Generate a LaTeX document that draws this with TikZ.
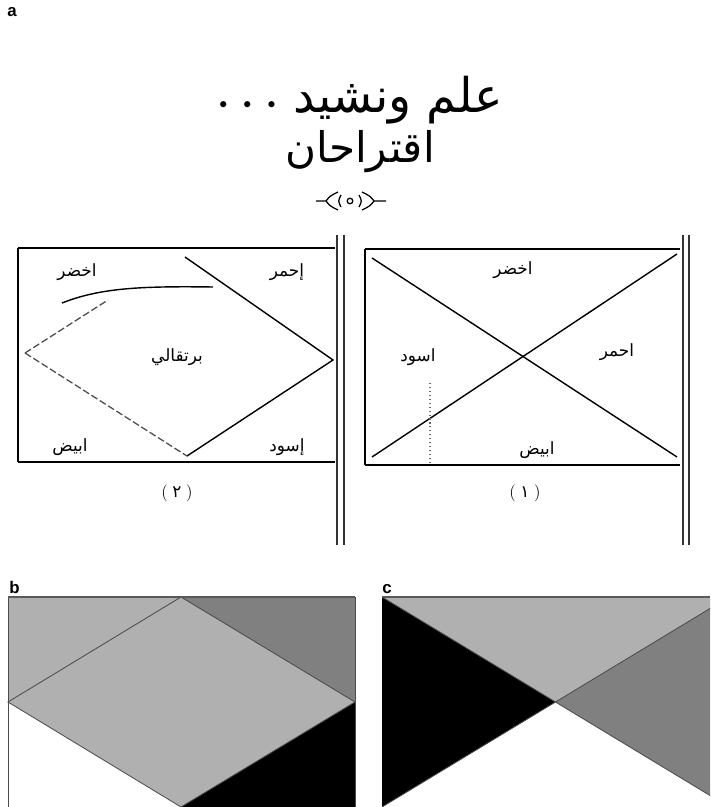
\documentclass[tikz,border=0pt]{standalone}
\usepackage{fontspec}
\newfontfamily\arabicfont[Script=Arabic]{DejaVu Sans}
\newfontfamily\panelfont{Liberation Sans}
\TeXXeTstate=1
\definecolor{flaglight}{gray}{0.69}
\definecolor{flagdark}{gray}{0.50}

\begin{document}
\begin{tikzpicture}[
  x=0.025cm, y=-0.025cm,
  ink/.style={draw=black, line width=1pt},
  heavy/.style={draw=black, line width=1.6pt},
  rule/.style={draw=black!80, line width=1.3pt},
  faint/.style={draw=black!70, line width=0.9pt, dash pattern=on 5pt off 2pt},
  edge/.style={draw=black!70, line width=0.6pt},
  curl/.style={line width=0.9pt},
  word/.style={font=\arabicfont\fontsize{12}{14}\selectfont, inner sep=0pt},
  panel/.style={font=\panelfont\bfseries\fontsize{12}{14}\selectfont,
    anchor=base west, inner sep=0pt}
]
  \useasboundingbox (0,0) rectangle (710,807);

  % Newspaper cutting: heading and the two proposals.
  \begin{scope}
    \node[panel] (la) at (7,17) {a};
    \node[font=\arabicfont\fontsize{34}{40}\selectfont, inner sep=0pt]
      (title) at (360,100)
      {\beginR علم ونشيد\ {\fontsize{15}{15}\selectfont•\;\;•\;\;•}\endR};
    \node[font=\arabicfont\fontsize{30}{36}\selectfont, inner sep=0pt]
      (subtitle) at (360,152) {\beginR اقتراحان\endR};
    \node[draw, circle, inner sep=1.4pt, line width=0.9pt] (orn) at (350,201) {};
    \draw[curl] (316,201) -- (326,201) .. controls (330,196) .. (338,192);
    \draw[curl] (326,201) .. controls (330,206) .. (338,210);
    \draw[curl] (341,195) .. controls (338,201) .. (341,207);
    \draw[curl] (386,201) -- (374,201) .. controls (370,196) .. (362,192);
    \draw[curl] (374,201) .. controls (370,206) .. (362,210);
    \draw[curl] (359,195) .. controls (362,201) .. (359,207);

    % dividing double rules
    \foreach \x in {337,344,683,689}
      \draw[rule] (\x,235) -- (\x,545);

    % proposal 2: diamond
    \draw[heavy] (18,248) -- (335,248);
    \draw[heavy] (18,462) -- (335,462);
    \draw[ink] (18,248) -- (18,462);
    \coordinate (dt) at (185,257);
    \coordinate (dr) at (333,360);
    \coordinate (db) at (187,456);
    \coordinate (dl) at (25,353);
    \draw[ink] (dt) -- (dr) -- (db);
    \draw[faint] (dl) -- (db);
    \draw[faint] (dl) -- (108,300);
    \draw[ink] (62,303) .. controls (100,288) and (140,286) .. (213,287);
    \node[word] (green2) at (77,272) {\beginR اخضر\endR};
    \node[word] (red2) at (287,272) {\beginR إحمر\endR};
    \node[word] (orange2) at (177,357) {\beginR برتقالي\endR};
    \node[word] (white2) at (70,447) {\beginR ابيض\endR};
    \node[word] (black2) at (287,447) {\beginR إسود\endR};
    \node[word] (cap2) at (177,493) {{\rmfamily(}\;٢\;{\rmfamily)}};

    % proposal 1: saltire
    \draw[heavy] (365,249) -- (680,249);
    \draw[heavy] (365,465) -- (680,465);
    \draw[heavy] (365,249) -- (365,465);
    \draw[ink] (372,258) -- (677,457);
    \draw[ink] (372,457) -- (677,254);
    \draw[black!60, line width=0.8pt, dotted] (430,383) -- (430,465);
    \node[word] (green1) at (513,270) {\beginR اخضر\endR};
    \node[word] (red1) at (617,352) {\beginR احمر\endR};
    \node[word] (black1) at (418,357) {\beginR اسود\endR};
    \node[word] (white1) at (537,450) {\beginR ابيض\endR};
    \node[word] (cap1) at (525,493) {{\rmfamily(}\;١\;{\rmfamily)}};
  \end{scope}

  % Proposal 2 in grey shades.
  \begin{scope}
    \node[panel] (lb) at (9,593) {b};
    \fill[flaglight] (8,597) rectangle (355,807);
    \fill[flagdark] (181,597) -- (355,597) -- (355,702) -- cycle;
    \fill[white] (8,702) -- (181,807) -- (8,807) -- cycle;
    \fill[black] (355,702) -- (355,807) -- (181,807) -- cycle;
    \draw[edge] (8,702) -- (181,597) -- (355,702) -- (181,807) -- cycle;
    \draw[edge] (8,807) -- (8,597) (355,597) -- (355,807);
    \draw[draw=black!65, line width=1.2pt] (8,597) -- (355,597);
  \end{scope}

  % Proposal 1 in grey shades.
  \begin{scope}
    \node[panel] (lc) at (382,593) {c};
    \clip (382,590) rectangle (710,807);
    \coordinate (cx) at (555.5,702);
    \fill[flaglight] (382,597) -- (729,597) -- (cx) -- cycle;
    \fill[flagdark] (729,597) -- (729,807) -- (cx) -- cycle;
    \fill[black] (382,597) -- (382,807) -- (cx) -- cycle;
    \draw[edge] (382,597) -- (729,807) (382,807) -- (729,597);
    \draw[draw=black!65, line width=1.2pt] (382,597) -- (710,597);
  \end{scope}
\end{tikzpicture}
\end{document}
